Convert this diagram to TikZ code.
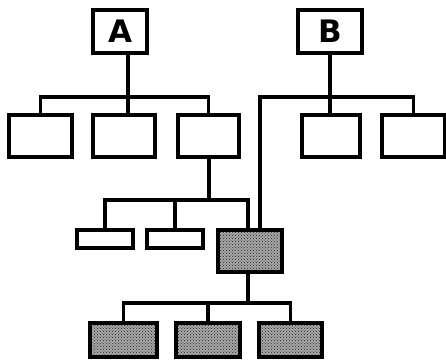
\documentclass[tikz,border=0pt]{standalone}
\usepackage{fontspec}
\newfontfamily\heavyfont{DejaVu Sans}
\usetikzlibrary{patterns}
\begin{document}
\begin{tikzpicture}[x=1pt,y=-1pt,
  box/.style={draw=black, line width=3.4pt, fill=white, inner sep=0pt},
  shaded/.style={draw=black, line width=4.5pt, inner sep=0pt,
    preaction={fill=black!35},
    pattern=crosshatch dots, pattern color=black!85},
  letter/.style={font=\heavyfont\bfseries\fontsize{31}{31}\selectfont},
  wire/.style={line width=3.2pt, line cap=rect}]
\useasboundingbox (0,0) rectangle (446,360);

% top-level boxes
\node[box, letter, minimum width=54pt, minimum height=43pt] (A) at (120,31.5) {A};
\node[box, letter, minimum width=64pt, minimum height=43pt] (B) at (330,31.5) {B};

% first row
\node[box, minimum width=63pt, minimum height=42pt] (a1) at (40.5,136) {};
\node[box, minimum width=62pt, minimum height=42pt] (a2) at (124,136) {};
\node[box, minimum width=61pt, minimum height=42pt] (a3) at (208.5,136) {};
\node[box, minimum width=58pt, minimum height=42pt] (b1) at (331,136) {};
\node[box, minimum width=63pt, minimum height=42pt] (b2) at (413.5,136) {};

% second row
\node[box, minimum width=56pt, minimum height=18pt] (c1) at (105,239) {};
\node[box, minimum width=56pt, minimum height=18pt] (c2) at (175,239) {};
\node[shaded, minimum width=64pt, minimum height=42pt] (c3) at (250,251) {};

% third row
\node[shaded, minimum width=67pt, minimum height=34pt] (d1) at (123.5,340) {};
\node[shaded, minimum width=64pt, minimum height=34pt] (d2) at (208,340) {};
\node[shaded, minimum width=63pt, minimum height=34pt] (d3) at (290.5,340) {};

% bus lines and stems
\coordinate (sA) at (128,97);
\coordinate (sB) at (260,97);
\coordinate (s3) at (209,200);
\coordinate (s4) at (248,303);

\draw[wire] (A.south -| sA) -- (sA);
\draw[wire] (a1.north) -- (a1.north |- sA) -- (a3.north |- sA) -- (a3.north);
\draw[wire] (a2.north -| sA) -- (sA);

\draw[wire] (B.south) -- (B.south |- sB);
\draw[wire] (c3.north -| sB) -- (sB) -- (b2.north |- sB) -- (b2.north);
\draw[wire] (b1.north -| B.south) -- (B.south |- sB);

\draw[wire] (a3.south -| s3) -- (s3);
\draw[wire] (c1.north) -- (c1.north |- s3) -- (s3 -| s4) -- (c3.north -| s4);
\draw[wire] (c2.north) -- (c2.north |- s3);

\draw[wire] (c3.south -| s4) -- (s4);
\draw[wire] (d1.north) -- (d1.north |- s4) -- (d3.north |- s4) -- (d3.north);
\draw[wire] (d2.north) -- (d2.north |- s4);
\end{tikzpicture}
\end{document}
